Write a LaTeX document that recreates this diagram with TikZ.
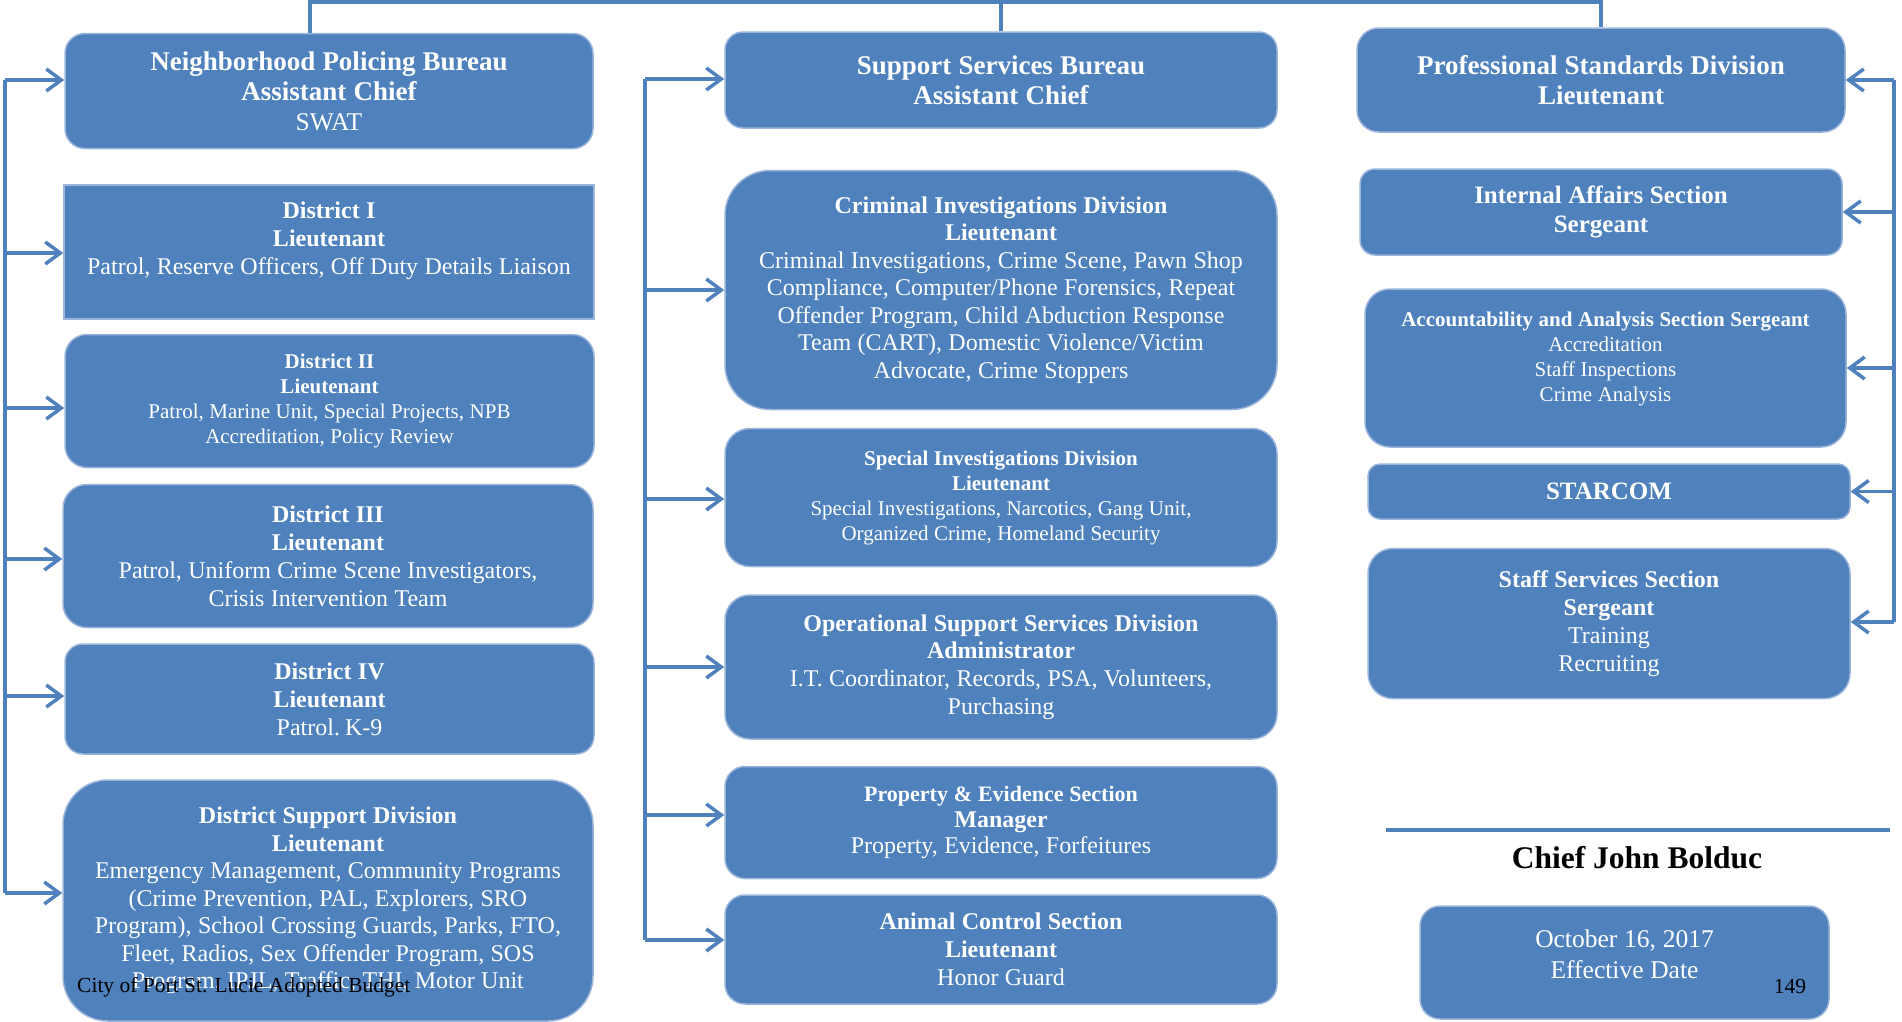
\documentclass[tikz,border=0pt]{standalone}
\usepackage{fontspec}
\setmainfont{Liberation Serif}
\usetikzlibrary{arrows.meta}

\definecolor{boxblue}{HTML}{4F81BD}
\definecolor{boxedge}{HTML}{9AB4DA}

% size / leading, with the slightly open word spacing of the box texts
\newcommand\fz[2]{\fontsize{#1}{#2}\selectfont\spaceskip=0.265em\relax}
\newcommand\fp[2]{\fontsize{#1}{#2}\selectfont}

\tikzset{
  orgbox/.style={draw=boxedge, line width=1.5pt, fill=boxblue, text=white,
                 align=center, inner sep=0pt},
  boxtext/.style={text=white, align=center, inner sep=0pt},
  conn/.style={draw=boxblue, line width=3.5pt},
  arr/.style={conn, -{Straight Barb[length=15pt, width=22pt]}},
  plain/.style={text=black, inner sep=0pt},
}

\begin{document}
\begin{tikzpicture}[x=1pt, y=-1pt]
\useasboundingbox (0,0) rectangle (1902,1021);

% ---------- Neighborhood Policing Bureau column ----------
\node[orgbox, minimum width=528pt, minimum height=115pt, rounded corners=20pt, text width=515pt]
  (npb) at (329,91)
  {\fz{27}{30}\bfseries Neighborhood Policing Bureau\\Assistant Chief\\\mdseries\fz{25.5}{30}SWAT\par};

\node[orgbox, minimum width=530pt, minimum height=134pt] (d1) at (329,252) {};
\node[boxtext, text width=515pt] (d1t) at (329,241)
  {\fz{24}{28}\textbf{District I}\\\textbf{Lieutenant}\\Patrol, Reserve Officers, Off Duty Details Liaison\par};

\node[orgbox, minimum width=529pt, minimum height=133pt, rounded corners=22pt, text width=515pt]
  (d2) at (329.5,401)
  {\fz{21}{25}\textbf{District II}\\\textbf{Lieutenant}\\Patrol, Marine Unit, Special Projects, NPB\\Accreditation, Policy Review\par};

\node[orgbox, minimum width=530pt, minimum height=143pt, rounded corners=24pt, text width=515pt]
  (d3) at (328,556)
  {\fz{24}{28}\textbf{District III}\\\textbf{Lieutenant}\\Patrol, Uniform Crime Scene Investigators,\\Crisis Intervention Team\par};

\node[orgbox, minimum width=529pt, minimum height=110pt, rounded corners=18pt, text width=515pt]
  (d4) at (329.5,699)
  {\fz{24}{28}\textbf{District IV}\\\textbf{Lieutenant}\\Patrol. K-9\par};

\node[orgbox, minimum width=530pt, minimum height=241pt, rounded corners=45pt, text width=515pt]
  (dsd) at (328,900.5)
  {\fz{24}{27.5}\textbf{District Support Division}\\\textbf{Lieutenant}\\Emergency Management, Community Programs\\(Crime Prevention, PAL, Explorers, SRO\\Program), School Crossing Guards, Parks, FTO,\\Fleet, Radios, Sex Offender Program, SOS\\Program, IPJL, Traffic, THI, Motor Unit\par};

% ---------- Support Services Bureau column ----------
\node[orgbox, minimum width=552pt, minimum height=96pt, rounded corners=18pt, text width=540pt]
  (ssb) at (1001,80)
  {\fz{27}{30}\bfseries Support Services Bureau\\Assistant Chief\par};

\node[orgbox, minimum width=552pt, minimum height=239pt, rounded corners=45pt, text width=540pt]
  (cid) at (1001,290)
  {\fz{24}{27.5}\textbf{Criminal Investigations Division}\\\textbf{Lieutenant}\\Criminal Investigations, Crime Scene, Pawn Shop\\Compliance, Computer/Phone Forensics, Repeat\\Offender Program, Child Abduction Response\\Team (CART), Domestic Violence/Victim\\Advocate, Crime Stoppers\par};

\node[orgbox, minimum width=552pt, minimum height=138pt, rounded corners=25pt, text width=540pt]
  (sid) at (1001,497.5)
  {\fz{21}{25}\textbf{Special Investigations Division}\\\textbf{Lieutenant}\\Special Investigations, Narcotics, Gang Unit,\\Organized Crime, Homeland Security\par};

\node[orgbox, minimum width=552pt, minimum height=144pt, rounded corners=25pt, text width=540pt]
  (ossd) at (1001,667)
  {\fz{24}{27.5}\textbf{Operational Support Services Division}\\\textbf{Administrator}\\I.T. Coordinator, Records, PSA, Volunteers,\\Purchasing\par};

\node[orgbox, minimum width=552pt, minimum height=112pt, rounded corners=20pt, text width=540pt]
  (pe) at (1001,822.5)
  {\fz{22}{26}\textbf{Property \& Evidence Section}\\\fz{24}{26}\textbf{Manager}\\Property, Evidence, Forfeitures\par};

\node[orgbox, minimum width=552pt, minimum height=109pt, rounded corners=20pt, text width=540pt]
  (acs) at (1001,949.5)
  {\fz{24}{28}\textbf{Animal Control Section}\\\textbf{Lieutenant}\\Honor Guard\par};

% ---------- Professional Standards Division column ----------
\node[orgbox, minimum width=488pt, minimum height=104pt, rounded corners=22pt, text width=478pt]
  (psd) at (1601,80)
  {\fz{27}{30}\bfseries Professional Standards Division\\Lieutenant\par};

\node[orgbox, minimum width=482pt, minimum height=86pt, rounded corners=15pt, text width=472pt]
  (ias) at (1601,212)
  {\fz{25}{29}\bfseries Internal Affairs Section\\Sergeant\par};

\node[orgbox, minimum width=481pt, minimum height=158pt, rounded corners=25pt] (aas) at (1605.5,368) {};
\node[boxtext, text width=472pt] (aast) at (1605.5,359)
  {\fz{21}{25}\textbf{Accountability and Analysis Section Sergeant}\\Accreditation\\Staff Inspections\\Crime Analysis\par};

\node[orgbox, minimum width=482pt, minimum height=55pt, rounded corners=12pt, text width=472pt]
  (star) at (1609,491.5)
  {\fz{25}{29}\bfseries STARCOM\par};

\node[orgbox, minimum width=482pt, minimum height=150pt, rounded corners=25pt, text width=472pt]
  (sss) at (1609,623.5)
  {\fz{24}{28}\textbf{Staff Services Section}\\\textbf{Sergeant}\\Training\\Recruiting\par};

% ---------- Signature block ----------
\coordinate (ruleL) at (1386,830);
\coordinate (ruleR) at (1890,830);
\draw[conn] (ruleL) -- (ruleR);

\node[plain, font=\fp{31.5}{36}\bfseries] (chief) at (1637,858) {Chief John Bolduc};

\node[orgbox, minimum width=409pt, minimum height=113pt, rounded corners=20pt] (date) at (1624.5,962.5) {};
\node[boxtext, text width=400pt] (datet) at (1624.5,954) {\fz{25.5}{31}October 16, 2017\\Effective Date\par};

% ---------- Page footer ----------
\node[plain, anchor=base west, font=\fp{21.5}{26}] (footer) at (77,992) {City of Port St. Lucie Adopted Budget};
\node[plain, anchor=base, font=\fp{21.5}{26}] (page) at (1790,993) {149};

% ---------- Top link between the three heads ----------
\coordinate (topL) at (310,2);
\coordinate (topR) at (1601,2);
\draw[conn] (npb.north -| topL) -- (topL) -- (topR) -- (psd.north);
\draw[conn] (ssb.north) -- (ssb.north |- topL);

% ---------- Left bus ----------
\coordinate (lb0) at (5,80);
\coordinate (lb1) at (5,253);
\coordinate (lb2) at (5,408);
\coordinate (lb3) at (5,559);
\coordinate (lb4) at (5,696);
\coordinate (lb5) at (5,893);
\draw[conn] (lb0) -- (lb5);
\draw[arr] (lb0) -- (lb0 -| npb.west);
\draw[arr] (lb1) -- (lb1 -| d1.west);
\draw[arr] (lb2) -- (lb2 -| d2.west);
\draw[arr] (lb3) -- (lb3 -| d3.west);
\draw[arr] (lb4) -- (lb4 -| d4.west);
\draw[arr] (lb5) -- (lb5 -| dsd.west);

% ---------- Middle bus ----------
\coordinate (mb0) at (645,79);
\coordinate (mb1) at (645,290);
\coordinate (mb2) at (645,499);
\coordinate (mb3) at (645,667);
\coordinate (mb4) at (645,815);
\coordinate (mb5) at (645,940);
\draw[conn] (mb0) -- (mb5);
\draw[arr] (mb0) -- (mb0 -| ssb.west);
\draw[arr] (mb1) -- (mb1 -| cid.west);
\draw[arr] (mb2) -- (mb2 -| sid.west);
\draw[arr] (mb3) -- (mb3 -| ossd.west);
\draw[arr] (mb4) -- (mb4 -| pe.west);
\draw[arr] (mb5) -- (mb5 -| acs.west);

% ---------- Right bus ----------
\coordinate (rb0) at (1894,80);
\coordinate (rb4) at (1894,622);
\draw[conn] (rb0) -- (rb4);
\draw[arr] (rb0) -- (psd.east);
\draw[arr] (ias.east -| rb0) -- (ias.east);
\draw[arr] (aas.east -| rb0) -- (aas.east);
\draw[arr] (star.east -| rb0) -- (star.east);
\draw[arr] (rb4) -- (rb4 -| sss.east);

\end{tikzpicture}
\end{document}
